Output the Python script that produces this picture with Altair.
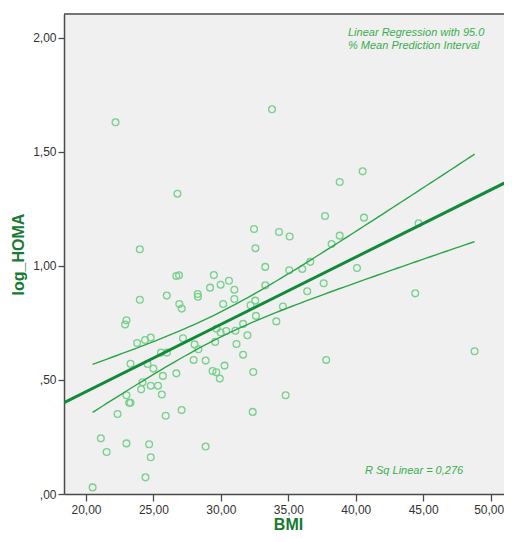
import altair as alt
import numpy as np
import pandas as pd

# values
bmi = [
    22.19, 26.78, 32.46, 32.56, 23.99,
    26.70, 26.90, 29.48, 30.60, 29.98, 29.20, 31.00, 25.99, 28.28, 28.30,
    31.00, 23.99, 26.92, 27.10, 30.17, 23.00, 22.90, 23.79, 24.38, 24.80,
    27.19, 28.05, 28.33, 29.58, 29.68, 29.98, 30.40, 31.08, 31.65, 31.16,
    31.97, 31.65, 32.20, 32.55, 32.60, 23.30, 25.56, 26.00, 24.56, 25.00,
    25.70, 26.70, 27.98, 28.87, 29.38, 29.66, 29.92, 30.27, 32.40, 24.19,
    24.09, 24.80, 25.34, 25.62, 23.00, 23.20, 23.30, 22.34, 25.91, 27.09,
    32.36, 21.10, 21.53, 23.00, 24.68, 24.80, 28.87, 24.41, 20.49,
    33.79, 40.51, 38.81, 37.72, 40.61, 34.31, 35.10, 38.81, 38.21, 33.29,
    35.07, 36.03, 36.63, 40.09,
    33.29, 37.62, 36.40, 34.60, 34.11, 37.81, 34.80,
    44.41, 48.81, 44.66,
]
log_homa = [
    1.630, 1.317, 1.162, 1.078, 1.073,
    0.956, 0.959, 0.960, 0.935, 0.918, 0.905, 0.896, 0.870, 0.877, 0.865,
    0.855, 0.852, 0.833, 0.813, 0.833, 0.762, 0.743, 0.662, 0.675, 0.686,
    0.683, 0.656, 0.635, 0.667, 0.725, 0.708, 0.715, 0.716, 0.746, 0.658,
    0.696, 0.611, 0.828, 0.848, 0.781, 0.571, 0.620, 0.620, 0.570, 0.550,
    0.518, 0.529, 0.588, 0.585, 0.539, 0.534, 0.506, 0.563, 0.535, 0.490,
    0.459, 0.475, 0.475, 0.436, 0.433, 0.400, 0.400, 0.351, 0.343, 0.368,
    0.360, 0.244, 0.184, 0.222, 0.218, 0.161, 0.208, 0.073, 0.029,
    1.687, 1.415, 1.368, 1.219, 1.212, 1.149, 1.129, 1.133, 1.096, 0.996,
    0.981, 0.987, 1.018, 0.991,
    0.915, 0.924, 0.889, 0.822, 0.757, 0.588, 0.433,
    0.880, 0.626, 1.187,
]
x_ticks = [20, 25, 30, 35, 40, 45, 50]
y_ticks = [0.0, 0.5, 1.0, 1.5, 2.0]
x_domain = [18.37, 50.99]
y_domain = [0.0, 2.105]
annot_top = ["Linear Regression with 95.0", "% Mean Prediction Interval"]
annot_r2 = "R Sq Linear = 0,276"

pts = pd.DataFrame({"BMI": bmi, "log_HOMA": log_homa})

# linear fit and 95% mean prediction interval computed from the points
xa = np.array(bmi)
ya = np.array(log_homa)
n = len(xa)
slope, intercept = np.polyfit(xa, ya, 1)
resid = ya - (intercept + slope * xa)
s = np.sqrt(np.sum(resid ** 2) / (n - 2))
sxx = np.sum((xa - xa.mean()) ** 2)
t_crit = 1.984
xs = np.linspace(xa.min(), xa.max(), 80)
half = t_crit * s * np.sqrt(1.0 / n + (xs - xa.mean()) ** 2 / sxx)
fit_c = intercept + slope * xs
ci = pd.DataFrame({"BMI": xs, "lo": fit_c - half, "hi": fit_c + half})
fit_x = [x_domain[0], x_domain[1] + 1.0]
fit = pd.DataFrame({"BMI": fit_x, "fit": [intercept + slope * v for v in fit_x]})

W, H = 440, 480
green_dark = "#187a34"
font = "Liberation Sans"

xscale = alt.Scale(domain=x_domain, nice=False, zero=False)
yscale = alt.Scale(domain=y_domain, nice=False, zero=False)

xaxis = alt.Axis(
    values=x_ticks, grid=False, title="BMI",
    labelExpr="replace(format(datum.value, '.2f'), '.', ',')",
    labelOffset={"condition": {"test": "datum.value >= 50", "value": -2}, "value": 0},
    domainColor="#4a4a4a", domainWidth=1.5, tickColor="#4a4a4a", tickWidth=1.3,
    tickSize=7, labelFont=font, labelFontSize=12, labelColor="#333333", labelPadding=3,
    titleFont=font, titleFontSize=16, titleFontWeight="bold", titleColor=green_dark,
    titleX=224, titleY=35, titleAlign="center", titleBaseline="alphabetic",
)
yaxis = alt.Axis(
    values=y_ticks, grid=False, title="log_HOMA",
    labelExpr="datum.value < 1 ? substring(replace(format(datum.value, '.2f'), '.', ','), 1) : replace(format(datum.value, '.2f'), '.', ',')",
    domainColor="#4a4a4a", domainWidth=1.5, tickColor="#4a4a4a", tickWidth=1.3,
    tickSize=6, labelFont=font, labelFontSize=12, labelColor="#333333", labelPadding=2,
    titleFont=font, titleFontSize=16, titleFontWeight="bold", titleColor=green_dark,
    titleX=-46, titleY=240, titleAngle=270, titleAlign="center", titleBaseline="middle",
)

points = alt.Chart(pts).mark_point(
    shape="circle", filled=False, size=46, strokeWidth=1.3, color="#74d08a", opacity=0.95
).encode(
    x=alt.X("BMI:Q", scale=xscale, axis=xaxis),
    y=alt.Y("log_HOMA:Q", scale=yscale, axis=yaxis),
)

fit_line = alt.Chart(fit).mark_line(color="#138a3a", strokeWidth=3, clip=True).encode(
    x=alt.X("BMI:Q", scale=xscale), y=alt.Y("fit:Q", scale=yscale)
)
ci_lo = alt.Chart(ci).mark_line(color="#2aa548", strokeWidth=1.4, clip=True).encode(
    x=alt.X("BMI:Q", scale=xscale), y=alt.Y("lo:Q", scale=yscale)
)
ci_hi = alt.Chart(ci).mark_line(color="#2aa548", strokeWidth=1.4, clip=True).encode(
    x=alt.X("BMI:Q", scale=xscale), y=alt.Y("hi:Q", scale=yscale)
)

txt_style = dict(font=font, fontSize=11, fontStyle="italic", color="#3aae4e",
                 align="left", baseline="middle")
t1 = alt.Chart(pd.DataFrame({"t": [annot_top[0]]})).mark_text(**txt_style).encode(
    text="t:N", x=alt.value(284), y=alt.value(19))
t2 = alt.Chart(pd.DataFrame({"t": [annot_top[1]]})).mark_text(**txt_style).encode(
    text="t:N", x=alt.value(284), y=alt.value(32))
t3 = alt.Chart(pd.DataFrame({"t": [annot_r2]})).mark_text(**txt_style).encode(
    text="t:N", x=alt.value(301), y=alt.value(457))

top_border = alt.Chart(pd.DataFrame({"a": [0]})).mark_rule(
    color="#4a4a4a", strokeWidth=1.5
).encode(x=alt.value(0), x2=alt.value(W), y=alt.value(0))

chart = alt.layer(points, ci_lo, ci_hi, fit_line, t1, t2, t3, top_border).properties(
    width=W, height=H,
    autosize=alt.AutoSizeParams(type="none"),
    padding={"left": 56, "top": 6, "right": 0, "bottom": 40},
    background="white",
).configure_view(fill="#f0f0f0", stroke=None)

chart.save("out.html", embed_options={"renderer": "svg", "actions": False})
